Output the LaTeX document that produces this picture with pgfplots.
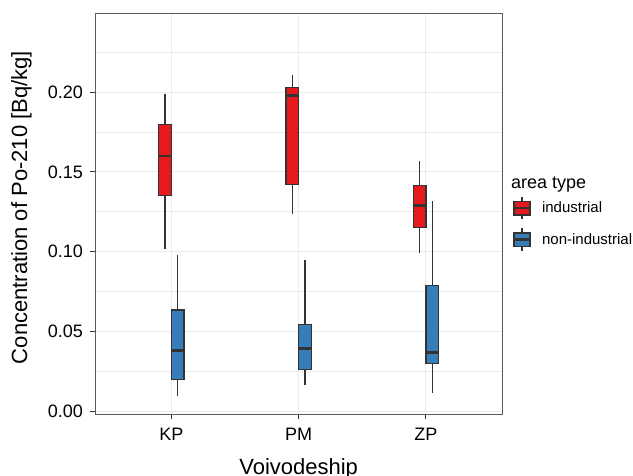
\documentclass[border=0pt]{standalone}
\usepackage{pgfplots}
\pgfplotsset{compat=1.18}
\usepackage{fontspec}
\setmainfont{Liberation Sans}
\definecolor{ind}{HTML}{E41A1C}
\definecolor{non}{HTML}{377EB8}
\definecolor{dk}{HTML}{333333}
\definecolor{grd}{HTML}{EBEBEB}
\definecolor{frm}{HTML}{5A5A5A}

\pgfplotsset{
  whisk/.style={dk, line width=1.3bp, forget plot},
  boxf/.style={draw=dk, line width=1.3bp, forget plot, fill=#1},
  med/.style={dk, line width=2.8bp, forget plot},
}

\begin{document}
\begin{tikzpicture}
\path[use as bounding box] (0,0) rectangle (633bp,476bp);
\clip (0,0) rectangle (633bp,476bp);
\begin{axis}[at={(95bp,61.7bp)}, anchor=south west, scale only axis,
  width=407.3bp, height=400.3bp,
  xmin=0.4, xmax=3.6, ymin=-0.002, ymax=0.249,
  xtick={1,2,3}, xticklabels={KP,PM,ZP},
  ytick={0,0.05,0.1,0.15,0.2},
  minor ytick={0.025,0.075,0.125,0.175,0.225},
  xmajorgrids, ymajorgrids, yminorgrids,
  major grid style={grd, line width=1.1bp},
  minor grid style={grd, line width=0.6bp},
  axis line style={frm, line width=1bp},
  tick align=outside, major tick length=5bp, minor tick length=0pt,
  tick style={dk, line width=1bp},
  xtick pos=bottom, ytick pos=left,
  /pgf/number format/assume math mode=true,
  yticklabel style={/pgf/number format/.cd, fixed, fixed zerofill, precision=2,
    /tikz/.cd, xshift=-3.5bp},
  xticklabel style={yshift=-5bp},
  tick label style={font=\fontsize{18bp}{20bp}\selectfont, black},
  xlabel={Voivodeship}, ylabel={Concentration of Po-210 [Bq/kg]},
  label style={font=\fontsize{22bp}{26bp}\selectfont},
  xlabel style={at={(axis description cs:0.5,-0.1504)}, anchor=base},
  ylabel style={at={(axis description cs:-0.1805,0.5166)}, anchor=center},
  legend style={at={(axis description cs:1.025,0.4764)}, anchor=west,
    draw=none, fill=none, inner sep=0pt, row sep=7.3bp,
    font=\fontsize{15bp}{17bp}\selectfont, cells={anchor=west},
    /tikz/every odd column/.append style={column sep=9bp}},
]
\addlegendimage{legend image code/.code={
  \draw[dk,line width=1.3bp] (8bp,-11bp) -- (8bp,11.7bp);
  \draw[dk,line width=1.3bp,fill=ind] (0bp,-6.7bp) rectangle (16bp,6.7bp);
  \draw[dk,line width=2.4bp] (0bp,0bp) -- (16bp,0bp);}}
\addlegendentry{industrial}
\addlegendimage{legend image code/.code={
  \draw[dk,line width=1.3bp] (8bp,-11bp) -- (8bp,11.7bp);
  \draw[dk,line width=1.3bp,fill=non] (0bp,-6.7bp) rectangle (16bp,6.7bp);
  \draw[dk,line width=2.4bp] (0bp,0bp) -- (16bp,0bp);}}
\addlegendentry{non-industrial}

% KP industrial
\addplot[whisk] coordinates {(0.95,0.1014) (0.95,0.1987)};
\addplot[boxf=ind] coordinates {(0.90,0.1353) (1.00,0.1353) (1.00,0.1799) (0.90,0.1799)} -- cycle;
\addplot[med] coordinates {(0.90,0.1600) (1.00,0.1600)};
% KP non-industrial
\addplot[whisk] coordinates {(1.05,0.0092) (1.05,0.0979)};
\addplot[boxf=non] coordinates {(1.00,0.0199) (1.10,0.0199) (1.10,0.0634) (1.00,0.0634)} -- cycle;
\addplot[med] coordinates {(1.00,0.0381) (1.10,0.0381)};
% PM industrial
\addplot[whisk] coordinates {(1.95,0.1234) (1.95,0.2108)};
\addplot[boxf=ind] coordinates {(1.90,0.1422) (2.00,0.1422) (2.00,0.2031) (1.90,0.2031)} -- cycle;
\addplot[med] coordinates {(1.90,0.1981) (2.00,0.1981)};
% PM non-industrial
\addplot[whisk] coordinates {(2.05,0.0161) (2.05,0.0949)};
\addplot[boxf=non] coordinates {(2.00,0.0262) (2.10,0.0262) (2.10,0.0541) (2.00,0.0541)} -- cycle;
\addplot[med] coordinates {(2.00,0.0391) (2.10,0.0391)};
% ZP industrial
\addplot[whisk] coordinates {(2.95,0.0993) (2.95,0.1566)};
\addplot[boxf=ind] coordinates {(2.90,0.1150) (3.00,0.1150) (3.00,0.1416) (2.90,0.1416)} -- cycle;
\addplot[med] coordinates {(2.90,0.1290) (3.00,0.1290)};
% ZP non-industrial
\addplot[whisk] coordinates {(3.05,0.0115) (3.05,0.1317)};
\addplot[boxf=non] coordinates {(3.00,0.0299) (3.10,0.0299) (3.10,0.0789) (3.00,0.0789)} -- cycle;
\addplot[med] coordinates {(3.00,0.0366) (3.10,0.0366)};
\end{axis}
\node[anchor=base west, inner sep=0pt, font=\fontsize{18bp}{20bp}\selectfont]
  at (511bp,287.7bp) {area type};
\end{tikzpicture}
\end{document}
